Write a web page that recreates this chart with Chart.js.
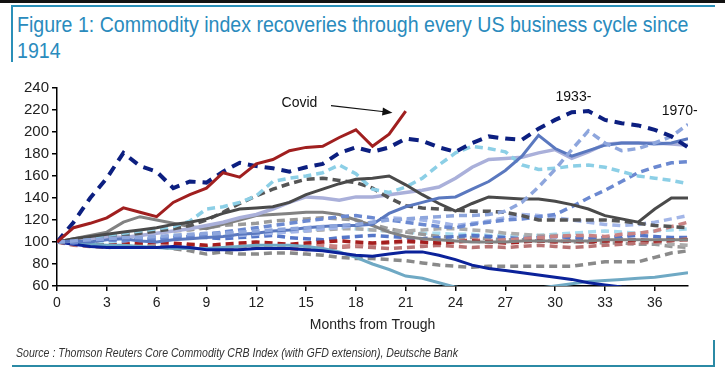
<!DOCTYPE html>
<html>
<head>
<meta charset="utf-8">
<script src="https://cdn.jsdelivr.net/npm/chart.js@4.4.1/dist/chart.umd.min.js"></script>
<style>
  html, body { margin:0; padding:0; background:#fff; width:725px; height:383px; overflow:hidden; }
  #topbar { position:absolute; left:0; top:0; width:725px; height:3px; background:#111; }
  #frameTop { position:absolute; left:11px; top:5px; width:704px; height:2px; background:#2a8fb8; }
  #frameLeft { position:absolute; left:11px; top:5px; width:2px; height:57px; background:#2a8fb8; }
  #frameBottom { position:absolute; left:12px; top:365px; width:703px; height:2px; background:#2b8aa5; }
  #frameRight { position:absolute; left:713px; top:340px; width:2px; height:27px; background:#2b8aa5; }
  #title { position:absolute; left:17px; top:12px; font-family:"Liberation Sans",Arial,sans-serif; font-size:22px; line-height:26px; color:#2a8bbd; white-space:nowrap; transform:scaleX(0.89); transform-origin:0 0; }
  #source { position:absolute; left:16px; top:346px; font-family:"Liberation Sans",Arial,sans-serif; font-style:italic; font-size:12px; color:#333; white-space:nowrap; transform:scaleX(0.88); transform-origin:0 0; }
  #wrap { position:absolute; left:0; top:0; width:725px; height:383px; }
</style>
</head>
<body>
<div id="topbar"></div>
<div id="frameTop"></div>
<div id="frameLeft"></div>
<div id="frameBottom"></div>
<div id="frameRight"></div>
<div id="title">Figure 1: Commodity index recoveries through every US business cycle since<br>1914</div>
<div id="wrap"><canvas id="c" width="725" height="383"></canvas></div>
<div id="source">Source : Thomson Reuters Core Commodity CRB Index (with GFD extension), Deutsche Bank</div>
<script>
// ---- data ----
const months = [0,1,2,3,4,5,6,7,8,9,10,11,12,13,14,15,16,17,18,19,20,21,22,23,24,25,26,27,28,29,30,31,32,33,34,35,36,37,38];
const yTicks = [60,80,100,120,140,160,180,200,220,240];

const covid        = [100,113,117,122,131,127,123,136,143,149,163,159,171,175,183,186,187,195,202,187,198,219];
const cycle1933    = [100,118,140,158,181,169,164,149,155,154,164,172,169,167,164,168,171,181,186,182,186,194,192,186,182,190,196,194,193,203,211,218,219,211,208,206,202,196,186];
const steelBlue    = [100,101,100,102,103,101,100,102,103,104,105,107,108,110,111,113,114,115,115,116,126,132,136,140,141,148,155,165,178,197,185,178,183,188,190,190,189,190,194];
const darkGrey     = [100,103,105,107,109,111,113,116,118,121,126,130,131,132,136,143,148,153,157,158,160,152,143,135,128,135,141,140,139,139,137,134,130,124,121,118,130,140,140];
const midGrey      = [100,103,106,109,118,123,120,117,114,112,116,120,124,125,126,127,127,125,120,115,109,105,103,102,101,100,100,100,101,101,101,101,101,102,102,102,102,102,102];
const navySolid    = [100,98,96,95,95,95,95,96,95,93,93,93,94,94,94,93,92,90,88,87,89,91,91,88,84,79,76,74,72,70,68,66,63,61,59,58,57,56,55];
const tealSolid    = [100,99,98,97,97,96,95,94,94,94,95,96,97,97,97,96,94,91,86,80,75,69,67,63,59,57,55,55,56,58,60,62,64,65,66,67,68,70,72];
const skyDash      = [100,102,104,106,108,110,112,114,119,130,132,136,142,155,158,160,163,170,162,148,145,150,158,170,181,187,185,182,170,166,167,169,170,168,164,160,158,156,153];
const cycle1970    = [100,101,102,103,104,104,105,106,107,108,108,109,110,111,112,113,114,115,116,118,120,121,122,123,124,124,125,128,136,150,166,184,201,190,183,185,190,196,207];
const darkGreyDash = [100,101,103,105,106,108,110,112,115,120,127,135,142,148,153,157,158,156,154,149,140,133,131,130,129,128,128,127,124,120,120,120,120,120,119,117,115,114,113];
const lowGreyDash  = [100,99,98,97,96,96,96,94,92,89,91,89,89,90,90,89,88,86,85,85,84,83,81,79,78,77,78,78,78,78,78,78,80,82,82,82,86,90,92];
const redDash      = [100,99,98,97,98,99,100,99,98,97,98,99,100,99,98,99,100,101,100,99,100,101,100,99,100,101,100,99,100,101,100,101,100,101,101,102,101,102,102];
const rosyDash     = [100,98,97,96,97,98,97,96,97,96,95,96,97,96,95,96,97,96,97,98,99,100,99,100,101,102,101,102,103,104,105,106,106,105,107,108,110,114,118];
const rosyDash2    = [100,97,96,95,96,97,96,95,94,95,94,95,96,95,94,93,94,95,96,95,94,95,96,97,96,95,96,95,96,97,96,95,96,97,98,99,100,101,103];
const lavender     = [100,101,103,105,104,106,108,110,112,115,118,122,125,130,136,141,140,138,141,141,143,145,147,150,158,168,175,176,177,181,184,176,182,189,190,190,190,189,188];
const paleBlueDash = [100,101,102,102,103,103,104,104,105,105,106,106,107,108,109,110,112,113,115,118,122,121,120,118,115,117,119,122,125,124,122,120,118,116,115,116,118,121,124];
const medBlueDash  = [100,99,101,102,101,103,102,104,105,107,109,111,113,115,117,119,121,123,124,122,120,118,116,114,113,116,118,120,121,123,125,132,140,147,155,163,168,172,173];
const blueDash     = [100,102,101,103,104,103,102,104,105,104,103,104,105,106,104,103,102,104,105,106,105,104,103,104,105,106,105,104,103,104,105,104,103,104,105,106,105,104,104];
const lightGreyDash= [100,101,102,103,103,103,104,105,105,106,106,107,108,109,110,110,111,112,112,111,110,110,111,112,112,111,110,108,107,106,106,105,104,104,103,102,100,98,97];
const greyBumpDash = [100,102,103,104,106,107,108,110,111,113,115,116,117,119,120,121,122,121,120,116,112,109,107,105,104,104,103,102,102,101,101,100,100,99,99,98,98,96,95];
const skyDash2     = [100,98,97,99,101,103,104,106,105,107,108,107,106,108,110,111,112,113,112,111,110,109,108,108,107,107,106,106,105,106,107,108,109,110,109,108,110,111,112];

const notes = [
  { text: 'Covid', month: 14.6, value: 226 },
  { text: '1933-', month: 31.1, value: 232 },
  { text: '1970-', month: 37.5, value: 219 }
];
const arrow = { fromMonth: 16.5, fromValue: 224, toMonth: 20.2, toValue: 217.6 };

// ---- styling ----
function ds(label, data, color, dashed, width) {
  return {
    label, data,
    borderColor: color,
    backgroundColor: color,
    borderWidth: width || 3,
    borderDash: dashed ? (Array.isArray(dashed) ? dashed : [8,5]) : [],
    pointRadius: 0,
    tension: 0,
    fill: false
  };
}

const datasets = [
  ds('Covid', covid, '#a01f1f', false, 3),
  ds('1933-', cycle1933, '#0c1f80', [10,7], 4),
  ds('1970-', cycle1970, '#8ea6dd', true, 3.5),
  ds('steel', steelBlue, '#5a78bf', false, 3),
  ds('darkGrey', darkGrey, '#4a4a4a', false, 3),
  ds('sky', skyDash, '#8ccfe6', true, 3.5),
  ds('darkGreyDash', darkGreyDash, '#555555', true, 3.5),
  ds('lavender', lavender, '#aab0da', false, 3.5),
  ds('medBlueDash', medBlueDash, '#6b89d1', true, 3.5),
  ds('midGrey', midGrey, '#828282', false, 3),
  ds('navy', navySolid, '#0b229a', false, 3),
  ds('teal', tealSolid, '#6fa9c4', false, 3),
  ds('lowGreyDash', lowGreyDash, '#8a8a8a', true, 3.5),
  ds('redDash', redDash, '#a51d1d', true, 3.5),
  ds('rosyDash', rosyDash, '#c98383', true, 3.5),
  ds('rosyDash2', rosyDash2, '#b87272', true, 3.5),
  ds('paleBlueDash', paleBlueDash, '#a3b6e8', true, 3.5),
  ds('blueDash', blueDash, '#5576c8', true, 3.5),
  ds('lightGreyDash', lightGreyDash, '#ababab', true, 3.5),
  ds('greyBumpDash', greyBumpDash, '#9a9a9a', true, 3.5),
  ds('skyDash2', skyDash2, '#a8dcef', true, 3.5)
];

const annotate = {
  id: 'annotate',
  afterDatasetsDraw(chart) {
    const { ctx, scales: { x, y } } = chart;
    ctx.save();
    ctx.fillStyle = '#111';
    ctx.font = '14px "Liberation Sans", Arial, sans-serif';
    ctx.textAlign = 'center';
    ctx.textBaseline = 'middle';
    notes.forEach(n => ctx.fillText(n.text, x.getPixelForValue(n.month), y.getPixelForValue(n.value)));
    const x1 = x.getPixelForValue(arrow.fromMonth), y1 = y.getPixelForValue(arrow.fromValue);
    const x2 = x.getPixelForValue(arrow.toMonth), y2 = y.getPixelForValue(arrow.toValue);
    ctx.strokeStyle = '#111';
    ctx.lineWidth = 1.2;
    const ang = Math.atan2(y2 - y1, x2 - x1);
    ctx.beginPath();
    ctx.moveTo(x1, y1);
    ctx.lineTo(x2 - 8 * Math.cos(ang), y2 - 8 * Math.sin(ang));
    ctx.stroke();
    ctx.beginPath();
    ctx.moveTo(x2, y2);
    ctx.lineTo(x2 - 10 * Math.cos(ang) + 4 * Math.sin(ang), y2 - 10 * Math.sin(ang) - 4 * Math.cos(ang));
    ctx.lineTo(x2 - 10 * Math.cos(ang) - 4 * Math.sin(ang), y2 - 10 * Math.sin(ang) + 4 * Math.cos(ang));
    ctx.closePath();
    ctx.fill();
    ctx.restore();
  }
};

Chart.defaults.font.family = '"Liberation Sans", Arial, sans-serif';
Chart.defaults.color = '#222';

new Chart(document.getElementById('c'), {
  type: 'line',
  data: { labels: months, datasets },
  options: {
    responsive: false,
    animation: false,
    devicePixelRatio: 1,
    layout: { padding: { top: 88, right: 37, bottom: 47, left: 0 } },
    plugins: { legend: { display: false }, tooltip: { enabled: false }, title: { display: false } },
    scales: {
      x: {
        type: 'linear',
        min: 0, max: 38,
        afterFit(s) { s.height = 50; },
        ticks: { stepSize: 3, font: { size: 14 }, color: '#222', padding: 4, maxRotation: 0,
                 callback: v => (v % 3 === 0 && v <= 36) ? String(v) : '' },
        afterBuildTicks(s) { s.ticks = months.filter(m => m % 3 === 0 && m <= 36).map(m => ({ value: m })); },
        grid: { drawOnChartArea: false, drawTicks: true, tickLength: 5, color: '#000', lineWidth: 1.5 },
        border: { display: true, color: '#000', width: 1.5 },
        title: { display: true, text: 'Months from Trough', font: { size: 14 }, color: '#222', padding: { top: 2, bottom: 2 } }
      },
      y: {
        min: 60, max: 240,
        afterFit(s) { s.width = 57; },
        afterBuildTicks(s) { s.ticks = yTicks.map(v => ({ value: v })); },
        ticks: { font: { size: 15 }, color: '#222', padding: 3 },
        grid: { drawOnChartArea: false, drawTicks: true, tickLength: 5, color: '#000', lineWidth: 1.5 },
        border: { display: true, color: '#000', width: 1.5 }
      }
    }
  },
  plugins: [annotate]
});
</script>
</body>
</html>
